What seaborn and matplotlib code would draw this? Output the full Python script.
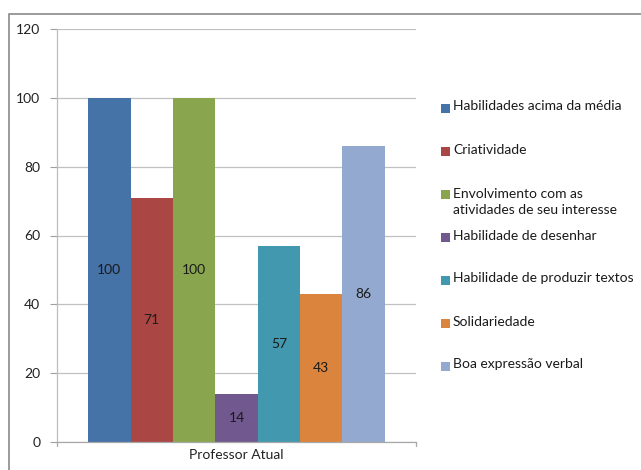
import matplotlib
matplotlib.use("Agg")
import matplotlib.pyplot as plt
import matplotlib.patches as mpatches
import seaborn as sns
import pandas as pd

group = ["Professor Atual"]
categories = [
    "Habilidades acima da média",
    "Criatividade",
    "Envolvimento com as\natividades de seu interesse",
    "Habilidade de desenhar",
    "Habilidade de produzir textos",
    "Solidariedade",
    "Boa expressão verbal",
]
values = [100, 71, 100, 14, 57, 43, 86]
colors = ["#4572A7", "#AA4643", "#89A54E", "#71588F", "#4198AF", "#DB843D", "#93A9CF"]
yticks = [0, 20, 40, 60, 80, 100, 120]

df = pd.DataFrame({"grupo": group * len(categories), "categoria": categories, "valor": values})

sns.set_theme(style="white")
plt.rcParams["font.family"] = ["Lato", "DejaVu Sans"]

W, H = 641, 470
fig = plt.figure(figsize=(W / 100, H / 100), dpi=100)
ax = fig.add_axes([57 / W, 1 - 442 / H, (416 - 57) / W, (442 - 29) / H])

sns.barplot(data=df, x="grupo", y="valor", hue="categoria", hue_order=categories,
            palette=colors, width=0.826, gap=0, saturation=1, linewidth=0,
            dodge=True, legend=False, ax=ax)

ax.set_ylim(0, 120)
ax.set_xlim(-0.5, 0.5)
ax.set_yticks(yticks)
ax.set_yticklabels([str(t) for t in yticks], fontsize=10, color="#222222")
ax.set_xlabel("")
ax.set_ylabel("")
ax.set_xticks([0])
ax.set_xticklabels(group, fontsize=10, color="#222222")
ax.tick_params(axis="x", length=0, pad=5)
ax.tick_params(axis="y", length=5, width=0.8, color="#A0A0A0", pad=7, direction="out", left=True)

ax.yaxis.grid(True, color="#C0C0C0", linewidth=0.9)
ax.set_axisbelow(True)
for side in ["top", "right"]:
    ax.spines[side].set_visible(False)
ax.spines["left"].set_color("#BDBDBD")
ax.spines["bottom"].set_color("#A8A8A8")
ax.spines["left"].set_linewidth(0.9)
ax.spines["bottom"].set_linewidth(0.9)

# small end ticks on the category axis
for xe in (-0.5, 0.5):
    ax.plot([xe, xe], [0, -1.2], color="#A8A8A8", lw=0.9, clip_on=False)

# value labels centred in each bar
for container in ax.containers:
    ax.bar_label(container, label_type="center", fontsize=10, color="#1a1a1a")

# legend entries (swatch + label), laid out like the spreadsheet legend
legend_rows = [108, 151, 195, 237, 280, 323, 366]
for row, color, label in zip(legend_rows, colors, categories):
    fig.patches.append(mpatches.Rectangle((441 / W, 1 - (row + 4.5) / H), 9 / W, 9 / H,
                                          transform=fig.transFigure, facecolor=color,
                                          edgecolor="none"))
    fig.text(453 / W, 1 - (row - 7.5) / H, label, fontsize=10, color="#1a1a1a",
             ha="left", va="top", linespacing=1.45)

# outer chart border
fig.patches.append(mpatches.Rectangle((9 / W, -0.1), 1.2, 1 - 13.5 / H + 0.1,
                                      transform=fig.transFigure, fill=False,
                                      edgecolor="#8A8A8A", linewidth=1.2))

fig.savefig("out.png", dpi=100)
